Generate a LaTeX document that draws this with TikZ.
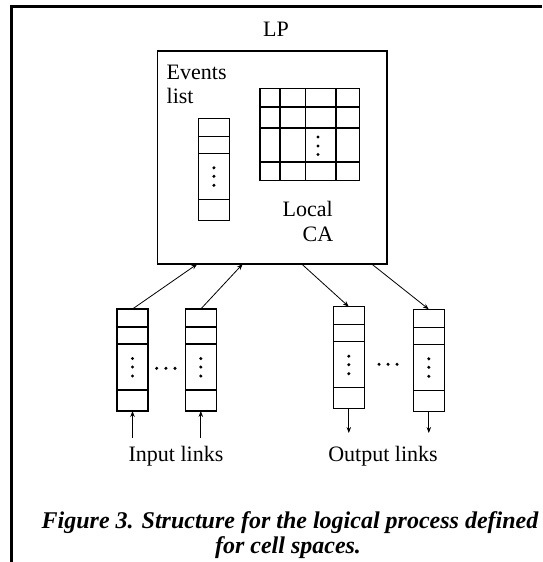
\documentclass[tikz,border=0pt]{standalone}
\usepackage{fontspec}
\setmainfont{Liberation Serif}
\usetikzlibrary{arrows.meta}
\tikzset{
  qline/.style={line width=1.4pt},
  qnode/.style={draw, line width=1.4pt, minimum width=31pt, minimum height=102pt, inner sep=0pt, outer sep=0pt},
  queue/.pic={
    \node[qnode] (-b) at (15.5,51) {};
    \draw[qline] (0,18) -- (31,18) (0,35) -- (31,35) (0,81) -- (31,81);
    \fill (15.5,49.5) circle (1.7pt) (15.5,58) circle (1.7pt) (15.5,67) circle (1.7pt);
  },
  lbl/.style={font=\fontsize{22}{26}\selectfont, inner sep=0pt, anchor=base},
  captxt/.style={font=\fontsize{24}{28}\selectfont\bfseries\itshape, inner sep=0pt, anchor=base},
  link/.style={line width=0.8pt, -{Stealth[length=6pt,width=4.5pt]}},
  hdot/.style={fill, circle, inner sep=0pt, minimum size=3.4pt}
}
\begin{document}
\begin{tikzpicture}[x=1pt, y=-1pt]
\useasboundingbox (0,0) rectangle (542,562);
% frame
\draw[line width=2.6pt] (11.5,562) -- (11.5,6.5) -- (542,6.5);
% LP
\node[lbl] (lptxt) at (276,36) {LP};
\node[draw, line width=1.3pt, minimum width=229.5pt, minimum height=213pt, inner sep=0pt, outer sep=0pt] (lp) at (272.25,157.5) {};
\node[lbl, anchor=base west] (ev1) at (166.5,79.3) {Events};
\node[lbl, anchor=base west] (ev2) at (166.5,103.3) {list};
\pic (ev) at (198.4,118.3) {queue};
% grid
\node[draw, line width=1.4pt, minimum width=99.5pt, minimum height=92.4pt, inner sep=0pt, outer sep=0pt] (ca) at (309.75,134.5) {};
\draw[qline] (280,88.3) -- (280,180.7) (305.7,88.3) -- (305.7,180.7) (336,88.3) -- (336,180.7)
  (260,107) -- (359.5,107) (260,128) -- (359.5,128) (260,162) -- (359.5,162);
\fill (318,137) circle (1.7pt) (318,146) circle (1.7pt) (318,154.5) circle (1.7pt);
\node[lbl] (loc1) at (307.7,216.7) {Local};
\node[lbl] (loc2) at (318,241.7) {CA};
% queues
\pic (q1) at (117,309) {queue};
\pic (q2) at (185.3,309) {queue};
\pic (q3) at (333.3,306.7) {queue};
\pic (q4) at (413.3,309.3) {queue};
\node[hdot] (d1) at (156.7,368.3) {};
\node[hdot] (d2) at (165.9,368.3) {};
\node[hdot] (d3) at (175,368.3) {};
\node[hdot] (d4) at (379,364.3) {};
\node[hdot] (d5) at (388,364.3) {};
\node[hdot] (d6) at (397,364.3) {};
% arrows to/from box
\coordinate (a1) at (197.3,264);
\coordinate (a2) at (242.7,264);
\coordinate (b1) at (301.7,264);
\coordinate (b2) at (371.7,264);
\draw[link] (q1-b.north) -- (a1);
\draw[link] (q2-b.north) -- (a2);
\draw[link] (b1) -- (q3-b.north);
\draw[link] (b2) -- (q4-b.north);
% links
\coordinate (i1) at (132.5,438);
\coordinate (i2) at (200.8,438);
\coordinate (o1) at (348.8,433);
\coordinate (o2) at (428.8,433);
\draw[link] (i1) -- (q1-b.south);
\draw[link] (i2) -- (q2-b.south);
\draw[link] (q3-b.south) -- (o1);
\draw[link] (q4-b.south) -- (o2);
\node[lbl] (inl) at (176,461.7) {Input links};
\node[lbl] (outl) at (383,461.7) {Output links};
% caption
\node[captxt] (c1) at (290,528) {Figure 3. Structure for the logical process defined};
\node[captxt] (c2) at (288,553) {for cell spaces.};
\end{tikzpicture}
\end{document}
